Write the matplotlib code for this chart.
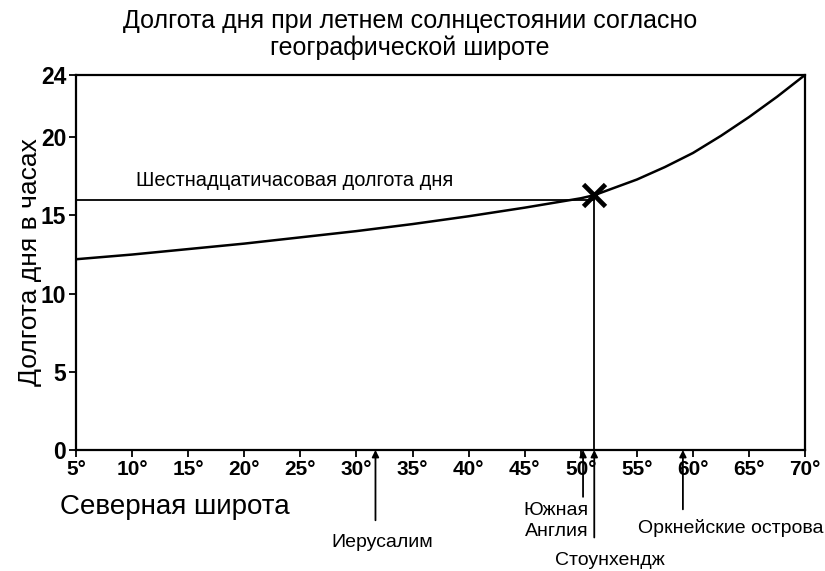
import matplotlib
matplotlib.use("Agg")
import matplotlib.pyplot as plt

plt.rcParams['font.family'] = ['Liberation Sans', 'DejaVu Sans']

# day length at summer solstice vs latitude
lat = [5, 10, 15, 20, 25, 30, 35, 40, 45, 50, 51.2, 55, 57.5, 60, 62.5, 65, 67.5, 70]
hours = [12.2, 12.5, 12.85, 13.2, 13.6, 14.0, 14.45, 14.95, 15.5, 16.1, 16.3,
         17.3, 18.1, 19.0, 20.1, 21.3, 22.6, 24.0]

xticks = [5, 10, 15, 20, 25, 30, 35, 40, 45, 50, 55, 60, 65, 70]
xtick_labels = [f"{t}°" for t in xticks]
yticks = [0, 5, 10, 15, 20, 24]

stonehenge = (51.2, 16.3)
sixteen = 16
places = ["Иерусалим", "Южная\nАнглия", "Стоунхендж", "Оркнейские острова"]
place_lat = [31.7, 50.2, 51.2, 59.1]
arrow_tail = [-4.5, -3.0, -5.6, -3.8]

fig = plt.figure(figsize=(8.25, 5.71), dpi=100)
ax = fig.add_axes([0.092, 0.212, 0.884, 0.657])

ax.plot(lat, hours, color='black', lw=1.8)
# 16 hour line and Stonehenge marker
ax.plot([5, stonehenge[0]], [sixteen, sixteen], color='black', lw=1.3)
ax.plot([stonehenge[0], stonehenge[0]], [0, stonehenge[1]], color='black', lw=1.3)
ax.plot(*stonehenge, marker='x', ms=16, mew=3.4, color='black')
ax.text(10.4, 16.6, "Шестнадцатичасовая долгота дня", fontsize=14.4, va='bottom')

ax.set_xlim(5, 70)
ax.set_ylim(0, 24)
ax.set_xticks(xticks)
ax.set_xticklabels(xtick_labels, fontsize=15, fontweight='bold')
ax.set_yticks(yticks)
ax.set_yticklabels([str(t) for t in yticks], fontsize=16.5, fontweight='bold')
ax.tick_params(direction='out', length=5, width=1.3, pad=2)
for s in ax.spines.values():
    s.set_linewidth(1.6)

ax.set_ylabel("Долгота дня в часах", fontsize=19, labelpad=-1)
fig.text(0.073, 0.1, "Северная широта", fontsize=20, ha='left')

# arrows pointing at latitudes
for name, x, yt in zip(places, place_lat, arrow_tail):
    ax.annotate('', xy=(x, 0), xytext=(x, yt), annotation_clip=False,
                arrowprops=dict(arrowstyle='-|>', color='black', lw=1.3,
                                mutation_scale=10, shrinkA=0, shrinkB=0))
ax.text(32.3, -5.35, places[0], fontsize=14, ha='center', va='top')
ax.text(50.7, -3.35, places[1], fontsize=14, ha='right', va='top', linespacing=1.25)
ax.text(52.6, -6.5, places[2], fontsize=14, ha='center', va='top')
ax.text(63.4, -4.4, places[3], fontsize=14, ha='center', va='top')

fig.suptitle("Долгота дня при летнем солнцестоянии согласно\nгеографической широте",
             fontsize=18, y=0.985, x=0.497, linespacing=1.15)

fig.savefig("out.png", dpi=100)
